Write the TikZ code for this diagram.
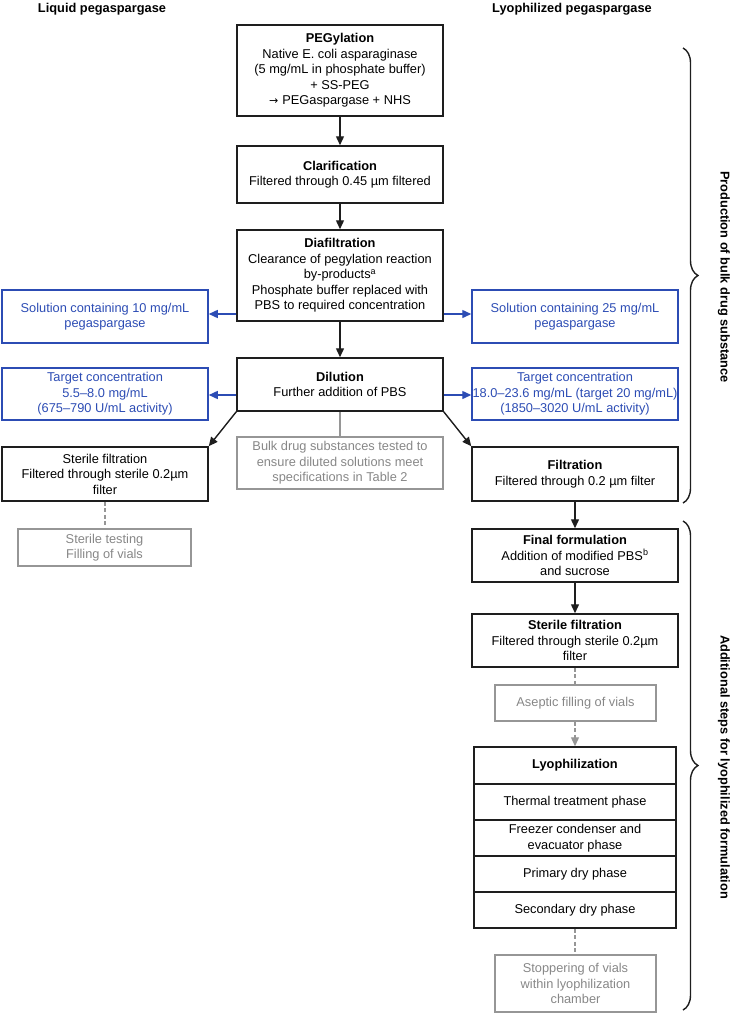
\documentclass[tikz,border=0pt]{standalone}
\usepackage{fontspec}
\setmainfont{Liberation Sans}
\newfontfamily\arrowfont{DejaVu Sans}
\usetikzlibrary{arrows.meta,decorations.pathreplacing,calc}
\definecolor{myblue}{RGB}{44,76,180}
\definecolor{mygray}{RGB}{150,150,150}
\definecolor{mygraytext}{RGB}{135,135,135}
\definecolor{myblack}{RGB}{30,30,30}
\begin{document}
\begin{tikzpicture}[x=1pt,y=-1pt,
 txt/.style={font=\fontsize{12.8pt}{15.5pt}\selectfont, align=center, inner sep=0pt},
 blk/.style={txt, draw=myblack, line width=1.5pt, text=black},
 blu/.style={txt, draw=myblue, line width=1.5pt, text=myblue},
 gry/.style={txt, draw=mygray, line width=1.3pt, text=mygraytext},
 arr/.style={myblack, line width=1.4pt, -{Triangle[length=9pt,width=8pt]}},
 barr/.style={myblue, line width=1.4pt, -{Triangle[length=9pt,width=8pt]}},
 gline/.style={mygray, line width=1.3pt},
 gdash/.style={mygray, line width=1.3pt, dash pattern=on 4pt off 2.5pt},
 gdarr/.style={gdash, -{Triangle[length=9pt,width=8pt]}},
 brc/.style={decorate, decoration={brace, amplitude=15pt}, myblack, line width=1.4pt},
 head/.style={font=\fontsize{12.8pt}{15.5pt}\selectfont\bfseries, inner sep=0pt},
]
\useasboundingbox (0,0) rectangle (731,1015);

% headers
\node[head] (hL) at (102,9) {Liquid pegaspargase};
\node[head] (hR) at (572,9) {Lyophilized pegaspargase};

% centre column
\node[blk, minimum width=206pt, minimum height=91pt] (pegy) at (340,70.5)
 {\textbf{PEGylation}\\Native E. coli asparaginase\\(5 mg/mL in phosphate buffer)\\+ SS-PEG\\{\arrowfont\fontsize{11pt}{15.5pt}\selectfont →}\hspace{4pt}PEGaspargase + NHS};
\node[blk, minimum width=206pt, minimum height=57pt] (clar) at (340,174.5)
 {\textbf{Clarification}\\Filtered through 0.45 µm filtered};
\node[blk, minimum width=206pt, minimum height=91pt] (diaf) at (340,275.5)
 {\textbf{Diafiltration}\\Clearance of pegylation reaction\\by-products\textsuperscript{a}\\Phosphate buffer replaced with\\PBS to required concentration};
\node[blk, minimum width=206pt, minimum height=53pt] (dil) at (340,384.5)
 {\textbf{Dilution}\\Further addition of PBS};
\node[gry, minimum width=206pt, minimum height=52pt] (bulk) at (340,463)
 {Bulk drug substances tested to\\ensure diluted solutions meet\\specifications in Table 2};

% left column
\node[blu, minimum width=206pt, minimum height=53pt] (sol10) at (105,316.5)
 {Solution containing 10 mg/mL\\pegaspargase};
\node[blu, minimum width=206pt, minimum height=52pt] (tgtL) at (105,394)
 {Target concentration\\5.5–8.0 mg/mL\\(675–790 U/mL activity)};
\node[blk, minimum width=206pt, minimum height=54pt] (sfL) at (105,474)
 {Sterile filtration\\Filtered through sterile 0.2µm\\filter};
\node[gry, minimum width=173pt, minimum height=37pt] (stest) at (104.5,547.5)
 {Sterile testing\\Filling of vials};

% right column
\node[blu, minimum width=206pt, minimum height=53pt] (sol25) at (575,316.5)
 {Solution containing 25 mg/mL\\pegaspargase};
\node[blu, minimum width=206pt, minimum height=52pt] (tgtR) at (575,394)
 {Target concentration\\18.0–23.6 mg/mL (target 20 mg/mL)\\(1850–3020 U/mL activity)};
\node[blk, minimum width=206pt, minimum height=54pt] (filt) at (575,474)
 {\textbf{Filtration}\\Filtered through 0.2 µm filter};
\node[blk, minimum width=206pt, minimum height=53pt] (final) at (575,555.5)
 {\textbf{Final formulation}\\Addition of modified PBS\textsuperscript{b}\\and sucrose};
\node[blk, minimum width=206pt, minimum height=53pt] (sfR) at (575,640.5)
 {\textbf{Sterile filtration}\\Filtered through sterile 0.2µm\\filter};
\node[gry, minimum width=161pt, minimum height=36pt] (asep) at (575.5,703)
 {Aseptic filling of vials};
\node[blk, minimum width=202pt, minimum height=37pt] (lyo) at (575,765.5)
 {\textbf{Lyophilization}};
\node[blk, minimum width=202pt, minimum height=36pt] (thermal) at (575,802)
 {Thermal treatment phase};
\node[blk, minimum width=202pt, minimum height=36pt] (freezer) at (575,838)
 {Freezer condenser and\\evacuator phase};
\node[blk, minimum width=202pt, minimum height=36pt] (primary) at (575,874)
 {Primary dry phase};
\node[blk, minimum width=202pt, minimum height=36pt] (secondary) at (575,910)
 {Secondary dry phase};
\node[gry, minimum width=161pt, minimum height=57pt] (stopper) at (575.5,983.5)
 {Stoppering of vials\\within lyophilization\\chamber};

% connectors
\draw[arr] (pegy.south) -- (clar.north);
\draw[arr] (clar.south) -- (diaf.north);
\draw[arr] (diaf.south) -- (dil.north);
\draw[barr] (diaf.west |- 0,314) -- (sol10.east |- 0,314);
\draw[barr] (diaf.east |- 0,314) -- (sol25.west |- 0,314);
\draw[barr] (dil.west |- 0,395) -- (tgtL.east |- 0,395);
\draw[barr] (dil.east |- 0,395) -- (tgtR.west |- 0,395);
\draw[arr] (dil.south west) -- (sfL.north east);
\draw[arr] (dil.south east) -- (filt.north west);
\draw[gline] (dil.south) -- (bulk.north);
\draw[gdash] (sfL.south) -- (stest.north -| sfL.south);
\draw[arr] (filt.south) -- (final.north);
\draw[arr] (final.south) -- (sfR.north);
\draw[gdash] (sfR.south) -- (asep.north -| sfR.south);
\draw[gdarr] (asep.south -| lyo.north) -- (lyo.north);
\draw[gdash] (secondary.south) -- (stopper.north -| secondary.south);

% braces
\coordinate (b1t) at (683,48);
\coordinate (b1b) at (683,503);
\coordinate (b2t) at (683,521);
\coordinate (b2b) at (683,1010);
\draw[brc] (b1t) -- (b1b);
\draw[brc] (b2t) -- (b2b);
\node[head, rotate=-90] (lab1) at (724,277) {Production of bulk drug substance};
\node[head, rotate=-90] (lab2) at (724,767) {Additional steps for lyophilized formulation};
\end{tikzpicture}
\end{document}
